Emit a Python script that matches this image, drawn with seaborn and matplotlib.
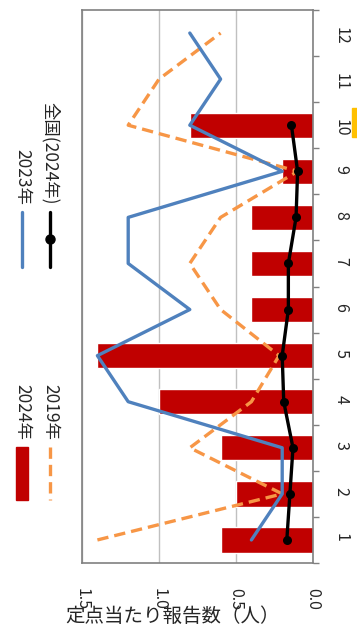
import numpy as np
import pandas as pd
import seaborn as sns
import matplotlib.pyplot as plt
from matplotlib.lines import Line2D
from matplotlib.patches import Rectangle

# data
months = [1, 2, 3, 4, 5, 6, 7, 8, 9, 10, 11, 12]
r2024 = [0.6, 0.5, 0.6, 1.0, 1.4, 0.4, 0.4, 0.4, 0.2, 0.8]
r2023 = [0.4, 0.2, 0.2, 1.2, 1.4, 0.8, 1.2, 1.2, 0.2, 0.8, 0.6, 0.8]
r2019 = [1.4, 0.2, 0.8, 0.4, 0.22, 0.6, 0.8, 0.6, 0.1, 1.2, 1.0, 0.6]
zenkoku = [0.17, 0.15, 0.13, 0.19, 0.2, 0.16, 0.16, 0.11, 0.1, 0.14]
value_ticks = [0.0, 0.5, 1.0, 1.5]

sns.set_style('white')
plt.rcParams['font.family'] = ['Noto Sans CJK JP', 'DejaVu Sans']

red = '#C00000'
blue = '#4F81BD'
orange = '#F79646'

fig = plt.figure(figsize=(3.57, 6.39), dpi=100)
ax = fig.add_axes([82/357, 1-563/639, 231/357, 553/639])

bars = pd.DataFrame({'month': months[:len(r2024)], 'val': r2024})
sns.barplot(data=bars, x='val', y='month', orient='h', native_scale=True,
            color=red, width=0.55, saturation=1, ax=ax, zorder=2)

sns.lineplot(x=r2019, y=months, orient='y', sort=False, color=orange,
             linewidth=2.4, linestyle=(0, (3.4, 1.8)), ax=ax, zorder=3)
sns.lineplot(x=r2023, y=months, orient='y', sort=False, color=blue,
             linewidth=2.4, ax=ax, zorder=4)
sns.lineplot(x=zenkoku, y=months[:len(zenkoku)], orient='y', sort=False,
             color='black', linewidth=2.4, marker='o', markersize=6.5,
             markeredgewidth=0, ax=ax, zorder=5)

ax.set_xlim(1.5, 0)
ax.set_ylim(0.5, 12.5)
ax.set_xticks(value_ticks)
ax.set_xticklabels([f'{v:.1f}' for v in value_ticks])
ax.xaxis.grid(True, color='#c0c0c0', linewidth=1)
ax.set_axisbelow(True)
ax.yaxis.tick_right()
ax.set_yticks(np.arange(0.5, 13, 1))
ax.set_yticklabels([])
ax.set_yticks(months, minor=True)
ax.set_yticklabels([str(m) for m in months], minor=True)
ax.tick_params(axis='y', which='major', length=4, color='#808080', width=1, direction='out')
ax.tick_params(axis='y', which='minor', length=0, pad=14, labelsize=11.5)
ax.tick_params(axis='x', length=0, pad=18, labelsize=11.5)
plt.setp(ax.get_xticklabels(), rotation=-90)
plt.setp(ax.get_yticklabels(minor=True), rotation=-90)
for s in ax.spines.values():
    s.set_color('#808080')
    s.set_linewidth(1.2)
ax.set_ylabel('')
ax.set_xlabel('定点当たり報告数（人）', fontsize=14, va='center')
ax.xaxis.set_label_coords(0.39, -0.096)

# legend drawn by hand (rotated layout)
ov = fig.add_axes([0, 0, 1, 1], zorder=-1)
ov.set_xlim(0, 357)
ov.set_ylim(639, 0)
ov.axis('off')
ov.add_patch(Rectangle((16, 447), 12, 53, color=red))
ov.add_line(Line2D([50, 50], [447, 500], color=orange, lw=2.4, ls=(0, (3.4, 1.8))))
ov.add_line(Line2D([22, 22], [212, 267], color=blue, lw=2.4, solid_capstyle='round'))
ov.add_line(Line2D([50, 50], [212, 267], color='black', lw=2.4))
ov.plot([50], [239], 'o', color='black', markersize=6.5)
for x, y, t in [(22, 440, '2024年'), (50, 440, '2019年'),
                (22, 205, '2023年'), (50, 205, '全国(2024年)')]:
    ov.text(x, y, t, rotation=-90, rotation_mode='anchor', ha='right',
            va='center', fontsize=12.5)
ov.add_patch(Rectangle((352, 108), 6, 29, color='#FFC000', clip_on=False))

fig.savefig('out.png', dpi=100)
